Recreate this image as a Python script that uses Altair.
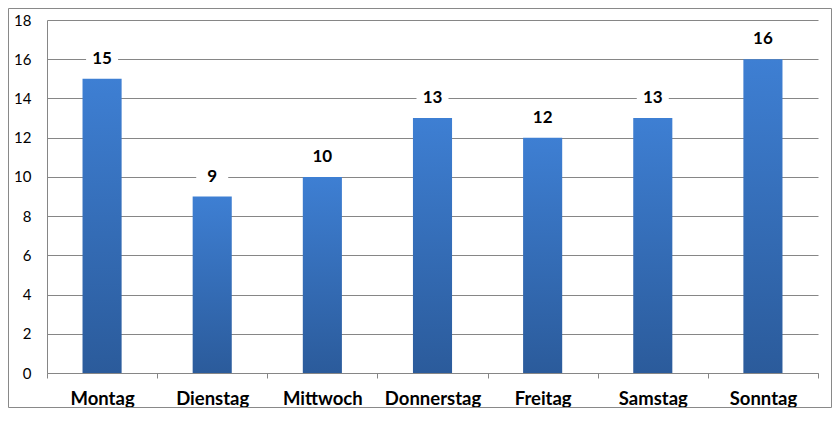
import altair as alt
import pandas as pd

days = ["Montag", "Dienstag", "Mittwoch", "Donnerstag", "Freitag", "Samstag", "Sonntag"]
values = [15, 9, 10, 13, 12, 13, 16]
y_ticks = [0, 2, 4, 6, 8, 10, 12, 14, 16, 18]

df = pd.DataFrame({"day": days, "value": values})

GRAY = "#868686"
FONT = "Lato"

x_enc = alt.X(
    "day:N",
    sort=days,
    scale=alt.Scale(paddingInner=0, paddingOuter=0),
    axis=alt.Axis(
        title=None, labelAngle=0, labelFont=FONT, labelFontWeight="bold",
        labelFontSize=18.5, labelColor="#000000", labelPadding=11,
        tickColor=GRAY, tickSize=5, tickBand="extent", domainColor=GRAY,
        grid=False,
    ),
)

y_scale = alt.Scale(domain=[0, 18], nice=False)
y_axis = alt.Axis(
    title=None, values=y_ticks, ticks=False, labelPadding=16,
    labelFont=FONT, labelFontSize=15, labelColor="#000000",
    gridColor=GRAY, domainColor=GRAY, labelOverlap=False,
)

base = alt.Chart(df)

bars = base.mark_bar(
    width=alt.RelativeBandSize(0.355),
    color=alt.Gradient(
        gradient="linear",
        stops=[
            alt.GradientStop(color="#3E7FD3", offset=0),
            alt.GradientStop(color="#2B5B9B", offset=1),
        ],
        x1=0, x2=0, y1=0, y2=1,
    ),
).encode(
    x=x_enc,
    y=alt.Y("value:Q", scale=y_scale, axis=y_axis),
)

masks = base.transform_calculate(
    lo="datum.value + 0.6", hi="datum.value + 1.5"
).mark_bar(size=32, color="white").encode(
    x=x_enc,
    y=alt.Y("lo:Q", scale=y_scale, axis=y_axis),
    y2="hi:Q",
)

labels = base.mark_text(
    dy=-20, font=FONT, fontWeight="bold", fontSize=17, color="#000000"
).encode(
    x=x_enc,
    y=alt.Y("value:Q", scale=y_scale, axis=y_axis),
    text="value:Q",
)

border = alt.Chart(pd.DataFrame({"a": [0]})).mark_rect(
    fill="transparent", stroke="#898989", strokeWidth=1
).encode(
    x=alt.value(-38.5), x2=alt.value(784.5),
    y=alt.value(-11.5), y2=alt.value(387.5),
)

chart = alt.layer(bars, masks, labels, border).properties(
    width=771,
    height=353,
    autosize=alt.AutoSizeParams(type="none"),
    padding={"left": 39, "top": 12, "right": 14, "bottom": 35},
    background="white",
).configure_view(stroke="transparent")

chart.save("out.html", embed_options={"renderer": "svg", "actions": False})
